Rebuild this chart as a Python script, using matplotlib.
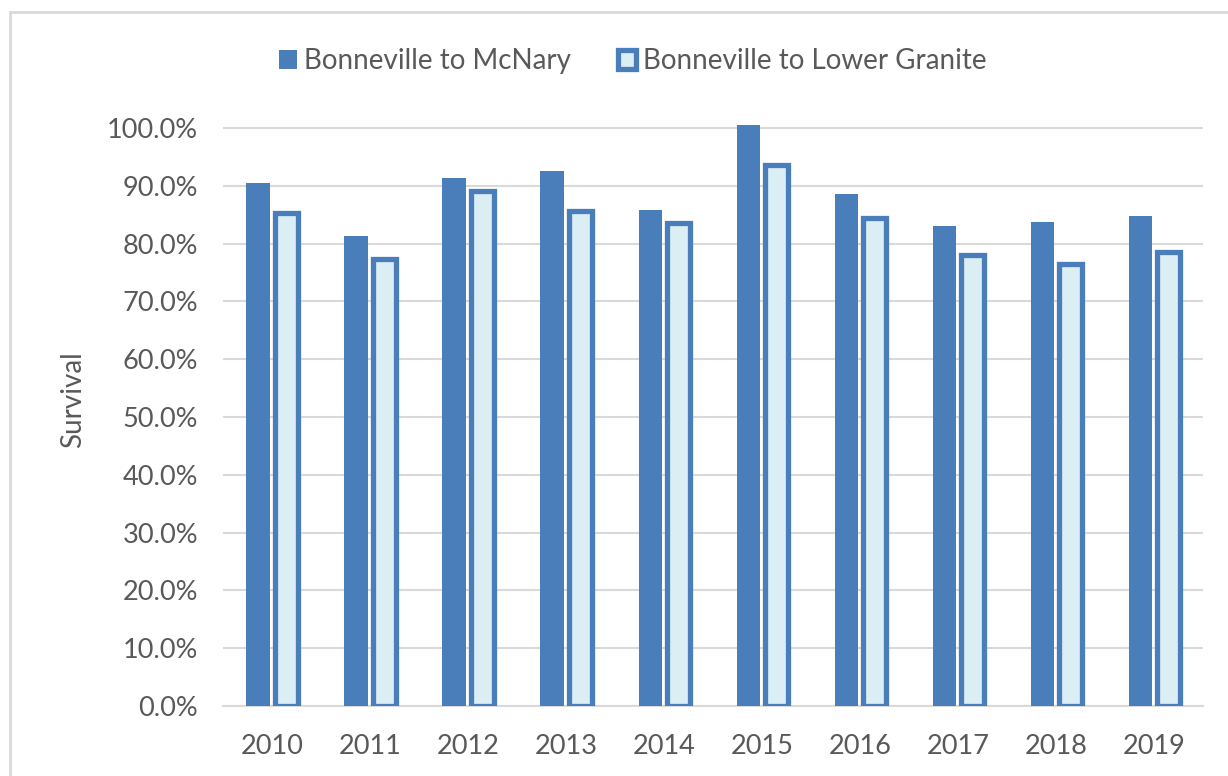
import numpy as np
import matplotlib.pyplot as plt
from matplotlib.patches import Rectangle
from matplotlib.ticker import PercentFormatter

plt.rcParams['font.family'] = ['Lato', 'DejaVu Sans']

anos = ['2010', '2011', '2012', '2013', '2014', '2015', '2016', '2017', '2018', '2019']
mcnary = [0.905, 0.813, 0.914, 0.926, 0.858, 1.005, 0.886, 0.830, 0.838, 0.847]
lower_granite = [0.853, 0.774, 0.891, 0.856, 0.836, 0.936, 0.845, 0.780, 0.765, 0.785]
y_ticks = np.arange(0, 1.01, 0.1)

azul = '#4A7EBB'
azul_claro = '#DBEEF4'
cinza = '#595959'
grade = '#D9D9D9'

fig = plt.figure(figsize=(12.28, 7.76), dpi=100)
ax = fig.add_axes([0.1816, 0.0902, 0.7981, 0.7523])

x = np.arange(len(anos))
largura = 0.235
ax.bar(x - 0.143, mcnary, largura, color=azul, label='Bonneville to McNary', zorder=3)
ax.bar(x + 0.143, lower_granite, largura, color=azul_claro, edgecolor=azul,
       linewidth=3.8, label='Bonneville to Lower Granite', zorder=3)

ax.set_xlim(-0.5, len(anos) - 0.5)
ax.set_ylim(0, 1.01)
ax.set_yticks(y_ticks)
ax.yaxis.set_major_formatter(PercentFormatter(1.0, decimals=1))
ax.set_xticks(x)
ax.set_xticklabels(anos)
ax.tick_params(length=0, labelsize=19.5, labelcolor=cinza)
ax.tick_params(axis='y', pad=18)
ax.tick_params(axis='x', pad=20)
ax.grid(axis='y', color=grade, linewidth=1.5, zorder=0)
for lado in ['top', 'right', 'left']:
    ax.spines[lado].set_visible(False)
ax.spines['bottom'].set_color(grade)
ax.spines['bottom'].set_linewidth(1.5)

ax.set_ylabel('Survival', fontsize=20, color=cinza)
ax.yaxis.set_label_coords(-0.140, 0.524)

leg = fig.legend(loc='center', bbox_to_anchor=(0.515, 0.921), ncol=2, frameon=False,
                 fontsize=20, handlelength=0.65, handleheight=0.65, handletextpad=0.25,
                 columnspacing=1.7)
for t in leg.get_texts():
    t.set_color(cinza)

# moldura do grafico
fig.patches.append(Rectangle((10 / 1228, -0.1), 1.2, 1 - 12 / 776 + 0.1,
                             transform=fig.transFigure, fill=False,
                             edgecolor=grade, linewidth=2))

fig.savefig('out.png', dpi=100)
